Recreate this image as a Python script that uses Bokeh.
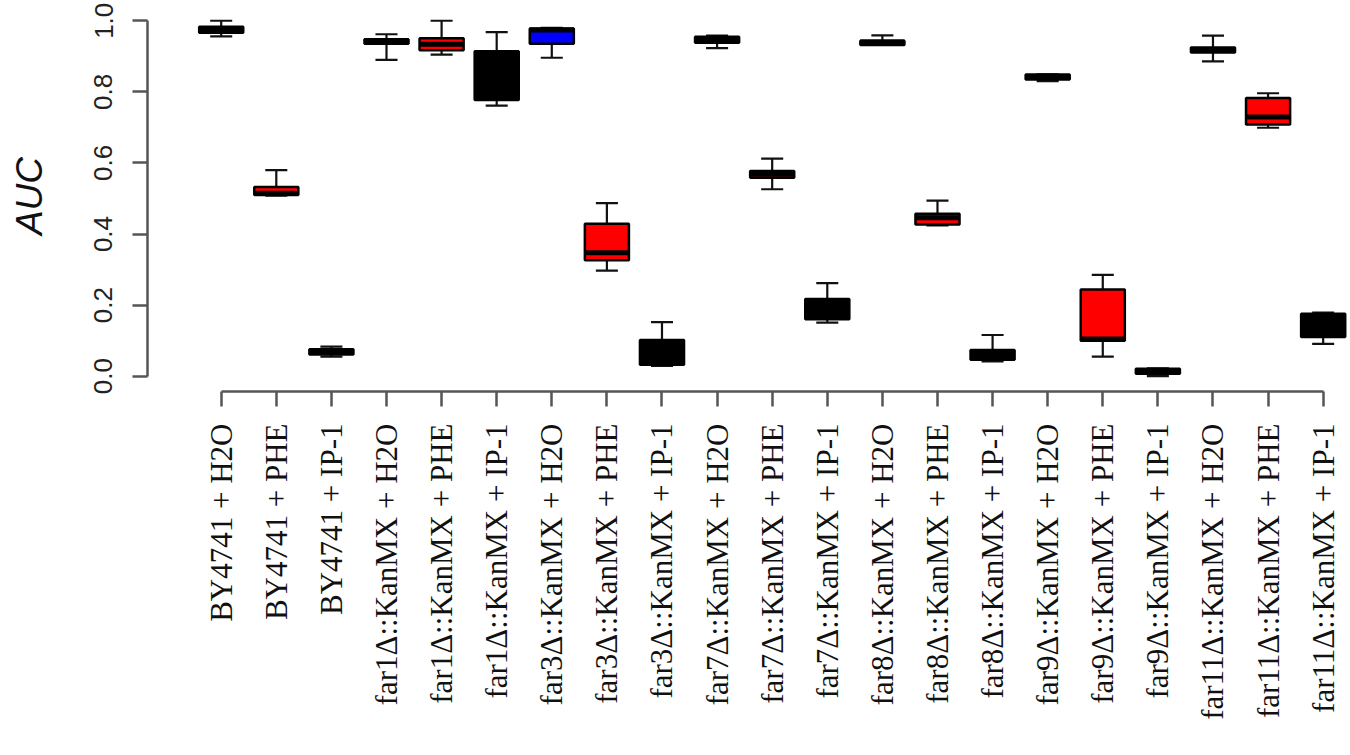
import math
import numpy as np
from bokeh.plotting import figure
from bokeh.models import ColumnDataSource, FixedTicker, Range1d
from bokeh.embed import file_html
from bokeh.resources import INLINE

# ---------------- data ----------------
categories = [
    "BY4741 + H2O", "BY4741 + PHE", "BY4741 + IP-1",
    "far1Δ::KanMX + H2O", "far1Δ::KanMX + PHE", "far1Δ::KanMX + IP-1",
    "far3Δ::KanMX + H2O", "far3Δ::KanMX + PHE", "far3Δ::KanMX + IP-1",
    "far7Δ::KanMX + H2O", "far7Δ::KanMX + PHE", "far7Δ::KanMX + IP-1",
    "far8Δ::KanMX + H2O", "far8Δ::KanMX + PHE", "far8Δ::KanMX + IP-1",
    "far9Δ::KanMX + H2O", "far9Δ::KanMX + PHE", "far9Δ::KanMX + IP-1",
    "far11Δ::KanMX + H2O", "far11Δ::KanMX + PHE", "far11Δ::KanMX + IP-1",
]
whisker_low = [0.956, 0.508, 0.055, 0.890, 0.905, 0.761, 0.896, 0.297, 0.029, 0.923, 0.526,
               0.151, 0.932, 0.424, 0.042, 0.830, 0.055, 0.000, 0.886, 0.699, 0.091]
q1 = [0.966, 0.510, 0.061, 0.935, 0.917, 0.777, 0.935, 0.326, 0.032, 0.938, 0.558,
      0.160, 0.932, 0.427, 0.046, 0.835, 0.100, 0.007, 0.911, 0.708, 0.110]
median = [0.974, 0.515, 0.068, 0.942, 0.934, 0.800, 0.974, 0.347, 0.045, 0.948, 0.568,
          0.190, 0.940, 0.446, 0.060, 0.843, 0.105, 0.014, 0.918, 0.729, 0.170]
q3 = [0.983, 0.532, 0.076, 0.948, 0.951, 0.914, 0.978, 0.429, 0.102, 0.955, 0.577,
      0.217, 0.944, 0.457, 0.074, 0.849, 0.244, 0.021, 0.925, 0.783, 0.176]
whisker_high = [1.000, 0.580, 0.0835, 0.962, 1.000, 0.968, 0.980, 0.487, 0.152, 0.958, 0.612,
                0.262, 0.959, 0.494, 0.116, 0.849, 0.285, 0.022, 0.958, 0.796, 0.179]
fill_colors = ["black", "red", "black", "black", "red", "black", "blue", "red", "black",
               "black", "red", "black", "black", "red", "black", "black", "red", "black",
               "black", "red", "black"]
y_ticks = [0.0, 0.2, 0.4, 0.6, 0.8, 1.0]
y_tick_labels = ["0.0", "0.2", "0.4", "0.6", "0.8", "1.0"]

# ---------------- derived ----------------
xs = np.arange(1, len(categories) + 1, dtype=float)
box_w = 0.8
cap_w = 0.4

src = ColumnDataSource(dict(
    x=xs, lo=whisker_low, q1=q1, med=median, q3=q3, hi=whisker_high, fill=fill_colors,
    bx0=xs - box_w / 2, bx1=xs + box_w / 2,
    cx0=xs - cap_w / 2, cx1=xs + cap_w / 2,
))

p = figure(width=1350, height=755, output_backend="svg", toolbar_location=None,
           x_range=Range1d(-0.3376, 21.496), y_range=Range1d(-0.043, 1.057),
           min_border_left=147, min_border_right=0, min_border_top=0, min_border_bottom=364)
p.outline_line_color = None
p.grid.visible = False
p.background_fill_color = "white"
p.border_fill_color = "white"

# whiskers
p.segment(x0="x", y0="q3", x1="x", y1="hi", source=src, line_color="#111111", line_width=2.2)
p.segment(x0="x", y0="q1", x1="x", y1="lo", source=src, line_color="#111111", line_width=2.2)
p.segment(x0="cx0", y0="hi", x1="cx1", y1="hi", source=src, line_color="#111111", line_width=2.2)
p.segment(x0="cx0", y0="lo", x1="cx1", y1="lo", source=src, line_color="#111111", line_width=2.2)
# boxes
p.vbar(x="x", width=box_w, bottom="q1", top="q3", source=src, fill_color="fill",
       line_color="black", line_width=2.5)
# medians
p.segment(x0="bx0", y0="med", x1="bx1", y1="med", source=src, line_color="black", line_width=5)

axis_col = "#555555"

# y axis
yax = p.yaxis[0]
yax.ticker = FixedTicker(ticks=y_ticks)
yax.major_label_overrides = {t: l for t, l in zip(y_ticks, y_tick_labels)}
yax.bounds = (0, 1)
yax.major_label_orientation = "vertical"
yax.major_label_text_font = "Liberation Sans"
yax.major_label_text_font_size = "26px"
yax.major_label_text_color = "#222222"
yax.major_label_standoff = 20
yax.major_tick_out = 15
yax.major_tick_in = 0
yax.minor_tick_line_color = None
yax.axis_line_color = axis_col
yax.axis_line_width = 2.5
yax.major_tick_line_color = axis_col
yax.major_tick_line_width = 2.5
yax.axis_label = "AUC"
yax.axis_label_text_font = "Liberation Sans"
yax.axis_label_text_font_style = "italic"
yax.axis_label_text_font_size = "37px"
yax.axis_label_text_color = "#111111"
yax.axis_label_standoff = 42

# x axis
xax = p.xaxis[0]
xax.ticker = FixedTicker(ticks=list(xs))
xax.major_label_overrides = {float(x): c for x, c in zip(xs, categories)}
xax.bounds = (float(xs[0]), float(xs[-1]))
xax.major_label_orientation = math.pi / 2
xax.major_label_text_font = "Liberation Serif"
xax.major_label_text_font_size = "31px"
xax.major_label_text_color = "#111111"
xax.major_label_standoff = 17
xax.major_tick_out = 15
xax.major_tick_in = 0
xax.minor_tick_line_color = None
xax.axis_line_color = axis_col
xax.axis_line_width = 2.5
xax.major_tick_line_color = axis_col
xax.major_tick_line_width = 2.5

open("out.html", "w").write(file_html(p, INLINE))
